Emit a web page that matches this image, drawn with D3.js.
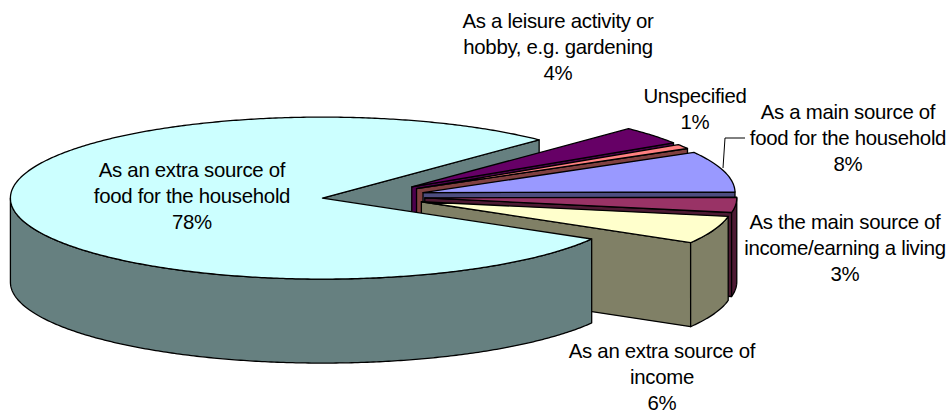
<!DOCTYPE html>
<html><head><meta charset="utf-8">
<script src="https://cdn.jsdelivr.net/npm/d3@7"></script>
<style>html,body{margin:0;padding:0;background:#fff}svg{display:block}
text{font-family:"Liberation Sans",Arial,sans-serif;font-size:20.4px;fill:#000;text-anchor:middle;letter-spacing:-0.3px}</style>
</head><body><svg id="c" width="948" height="414"></svg>
<script>
const categories=[
 ["As a leisure activity or","hobby, e.g. gardening"],
 ["Unspecified"],
 ["As a main source of","food for the household"],
 ["As the main source of","income/earning a living"],
 ["As an extra source of","income"],
 ["As an extra source of","food for the household"]];
const values=[3.6,0.9,8.1,3,5.5,78.4];
const percentLabels=["4%","1%","8%","3%","6%","78%"];
const topColors=["#660066","#FF8080","#9999FF","#993366","#FFFFCC","#CCFFFF"];
const sideColors=["#4D004D","#804040","#4D4D80","#4D1A33","#808066","#668080"];

// layout
const W=948,H=414,cx=367,cy=196.5,rx=312,ry=81,depth=84;
const explode=[58,58,58,58,58,45];
const startDeg=44;
const labelXY=[[558,21],[695,96],[848,112],[845,222],[662,351],[192,170]];
const lineGap=26.2;
const leader=[[745,138],[725,138],[723,168]];

const svg=d3.select("#c");
const sx=d3.scaleLinear().domain([-1,1]).range([-rx,rx]);
const sy=d3.scaleLinear().domain([-1,1]).range([-ry,ry]);
const pie=d3.pie().sort(null).value(d=>d).startAngle(startDeg*Math.PI/180).endAngle(startDeg*Math.PI/180+2*Math.PI);
const arcs=pie(values).map((p,i)=>{
  const t0=p.startAngle-Math.PI/2,t1=p.endAngle-Math.PI/2,m=(t0+t1)/2;
  return {i,t0,t1,ox:cx+sx(Math.cos(m))*explode[i]/rx,oy:cy+sy(Math.sin(m))*explode[i]/rx};
});
const line=d3.line().x(d=>d[0]).y(d=>d[1]);
const pt=(a,t,dz=0)=>[a.ox+sx(Math.cos(t)),a.oy+sy(Math.sin(t))+dz];
const arcPts=(a,t0,t1,dz=0)=>{
  const n=Math.max(2,Math.ceil(Math.abs(t1-t0)/0.01));
  return d3.range(n+1).map(k=>pt(a,t0+(t1-t0)*k/n,dz));
};
const G=svg.append("g").attr("stroke","#000").attr("stroke-width",1.3).attr("stroke-linejoin","round");
function poly(pts,fill){G.append("path").attr("d",line(pts)+"Z").attr("fill",fill);}
function endWall(a){
  const o=[a.ox,a.oy],e=pt(a,a.t1);
  poly([o,e,[e[0],e[1]+depth],[o[0],o[1]+depth]],sideColors[a.i]);
}
function rimWall(a){
  const lo=Math.max(a.t0,0),hi=Math.min(a.t1,Math.PI);
  if(hi<=lo)return;
  poly([...arcPts(a,lo,hi),...arcPts(a,hi,lo,depth)],sideColors[a.i]);
}
function topFace(a){
  poly([[a.ox,a.oy],...arcPts(a,a.t0,a.t1)],topColors[a.i]);
}
const big=arcs[5],small=arcs.slice(0,5);
endWall(big);
small.forEach(a=>{endWall(a);rimWall(a);topFace(a);});
rimWall(big);topFace(big);

const T=svg.append("g");
categories.forEach((ls,i)=>{
  [...ls,percentLabels[i]].forEach((s,k)=>T.append("text").attr("x",labelXY[i][0]).attr("y",labelXY[i][1]+k*lineGap+7).text(s));
});
svg.append("path").attr("d",line(leader)).attr("fill","none").attr("stroke","#000").attr("stroke-width",1);
</script></body></html>
